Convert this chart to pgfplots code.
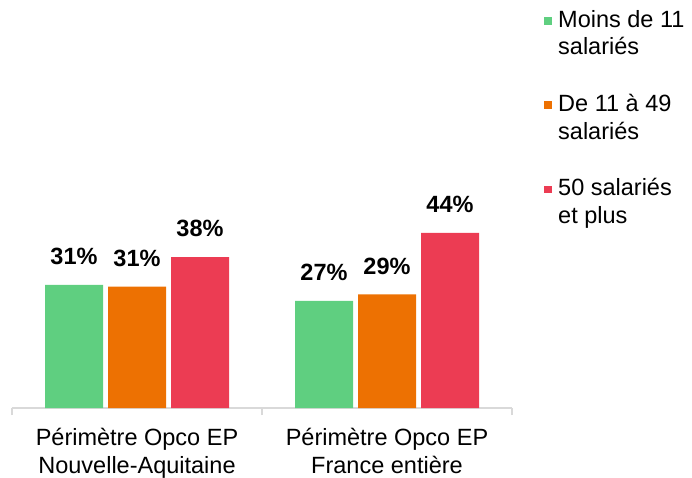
\documentclass[border=0pt]{standalone}
\usepackage{fontspec}
\setmainfont{Liberation Sans}
\usepackage{pgfplots}
\pgfplotsset{compat=1.18}
\definecolor{cg}{HTML}{5FCF80}
\definecolor{co}{HTML}{ED7102}
\definecolor{cr}{HTML}{EC3C53}
\definecolor{axc}{HTML}{D9D9D9}
\newcommand{\lgf}{\fontsize{23.5}{27.5}\selectfont}
\begin{document}
\begin{tikzpicture}[x=1pt,y=1pt]
\useasboundingbox (0,0) rectangle (692,477);
\begin{axis}[
  at={(12pt,69pt)}, anchor=south west,
  scale only axis, width=500pt, height=198.5pt,
  xmin=-0.5, xmax=1.5, ymin=0, ymax=50,
  enlargelimits=false, clip=false,
  ybar=5pt, bar width=58pt,
  axis x line*=bottom, axis y line=none,
  x axis line style={-, draw=axc, line width=1.5pt},
  xtick={0,1},
  xticklabels={{Périmètre Opco EP\\Nouvelle-Aquitaine},{Périmètre Opco EP\\France entière}},
  xticklabel style={align=center, font=\fontsize{23.5}{27.5}\selectfont, inner sep=0pt, yshift=-20pt},
  minor xtick={-0.5,0.5,1.5},
  tick align=outside, major tick length=0pt, minor tick length=7pt,
  tick style={draw=axc, line width=1.5pt},
  nodes near coords={\pgfmathprintnumber[fixed,precision=0]{\pgfplotspointmeta}\%},
  /pgf/number format/assume math mode=true,
  every node near coord/.append style={font=\fontsize{23.5}{28}\selectfont\bfseries, inner sep=0pt, anchor=south, yshift=20pt, text=black},
  legend style={at={(1.058,2.015)}, anchor=north west, draw=none, fill=none,
    font=\lgf, row sep=38pt,
    nodes={align=left, inner sep=0pt, outer sep=0pt, font=\lgf}},
  legend cell align=left,
  legend image code/.code={\fill[#1] (0pt,8.5pt) rectangle (7.5pt,16pt); \path (14pt,9pt);},
]
\addplot[fill=cg, draw=none] coordinates {(0,31.0) (1,27.0)};
\addplot[fill=co, draw=none] coordinates {(0,30.6) (1,28.6)};
\addplot[fill=cr, draw=none] coordinates {(0,38.0) (1,44.1)};
\addlegendentry{\lgf Moins de 11\\\lgf salariés}
\addlegendentry{\lgf De 11 à 49\\\lgf salariés}
\addlegendentry{\lgf 50 salariés\\\lgf et plus}
\end{axis}
\end{tikzpicture}
\end{document}
